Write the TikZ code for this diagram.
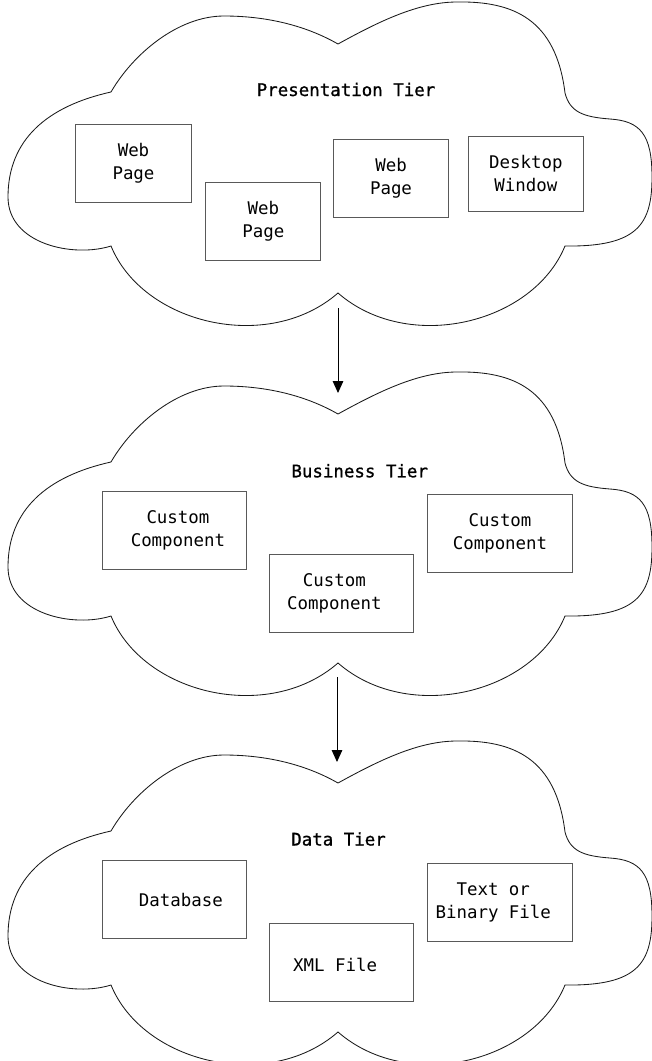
\documentclass[tikz,border=0pt]{standalone}
\usepackage{fontspec}
\setmonofont{DejaVu Sans Mono}
\newfontfamily\tierfont[FakeBold=1]{DejaVu Sans Mono}
\usepackage{tikz}
\usetikzlibrary{arrows.meta}

\newcommand{\boxfont}{\ttfamily\fontsize{12.4}{16.6}\selectfont}
\newcommand{\titlefont}{\tierfont\fontsize{12.4}{16.6}\selectfont}

% one cloud, (#1,#2) is the notch at its top
\newcommand{\tiercloud}[2]{%
  \draw[cloudline,shift={(#1,#2)}] (0,0)
    .. controls (40,-22) and (80,-42) .. (119,-42)
    .. controls (175,-43) and (218,-25) .. (227,49)
    .. controls (232,68) and (245,73) .. (272,75)
    .. controls (302,77) and (314,90) .. (314,133)
    .. controls (314,180) and (300,203) .. (227,202)
    .. controls (195,280) and (70,310) .. (0,249)
    .. controls (-70,310) and (-195,280) .. (-227,202)
    .. controls (-265,214) and (-330,200) .. (-330,153)
    .. controls (-330,95) and (-290,62) .. (-227,48)
    .. controls (-205,10) and (-160,-28) .. (-114,-28)
    .. controls (-75,-28) and (-35,-20) .. cycle;
}

\tikzset{
  cloudline/.style={line width=.6pt, draw=black!90},
  pagebox/.style={draw=black!65, line width=.7pt, inner sep=0pt, align=center,
    minimum width=2.875cm, minimum height=1.95cm, font=\boxfont},
  widebox/.style={pagebox, minimum width=3.6cm},
  boxlabel/.style={font=\boxfont, align=center, inner sep=0pt},
  tiertitle/.style={font=\titlefont},
  flow/.style={-{Triangle[length=8.5pt,width=7.5pt]}, line width=.7pt}
}

\begin{document}
\begin{tikzpicture}[x=0.025cm,y=-0.025cm]
    \useasboundingbox (0,0) rectangle (652,1061);

    % clouds
    \tiercloud{338}{44}
    \tiercloud{338}{414}
    \tiercloud{338}{783}

    % presentation tier
    \node[tiertitle] (presTitle) at (346,89.5) {Presentation Tier};
    \node[pagebox] (presWebA) at (133.5,163.3) {Web\\Page};
    \node[pagebox] (presWebB) at (263.4,221.5) {Web\\Page};
    \node[pagebox] (presWebC) at (391,178.3) {Web\\Page};
    \node[pagebox, minimum height=1.875cm] (presDesk) at (525.8,173.7) {Desktop\\Window};

    % business tier
    \node[tiertitle] (busTitle) at (359.7,470.8) {Business Tier};
    \node[widebox, label={[boxlabel,xshift=2.2pt]center:Custom\\Component}] (busCompA) at (174.9,530.5) {};
    \node[widebox, label={[boxlabel,xshift=-4.8pt]center:Custom\\Component}] (busCompB) at (341.2,593.5) {};
    \node[widebox] (busCompC) at (500,533.5) {Custom\\Component};

    % data tier
    \node[tiertitle] (dataTitle) at (338.5,839) {Data Tier};
    \node[widebox, label={[boxlabel,xshift=4.3pt]center:Database}] (dataDb) at (174.9,899.7) {};
    \node[widebox, label={[boxlabel,xshift=-4.3pt,yshift=-1.8pt]center:XML File}] (dataXml) at (341.2,962.5) {};
    \node[widebox, label={[boxlabel,xshift=-4.8pt]center:Text or\\Binary File}] (dataFile) at (500,902.5) {};

    % arrows between tiers
    \coordinate (presOut) at (338,308);
    \coordinate (busIn) at (338,393);
    \coordinate (busOut) at (337,677);
    \coordinate (dataIn) at (337,762);
    \draw[flow] (presOut) -- (busIn);
    \draw[flow] (busOut) -- (dataIn);
\end{tikzpicture}
\end{document}
